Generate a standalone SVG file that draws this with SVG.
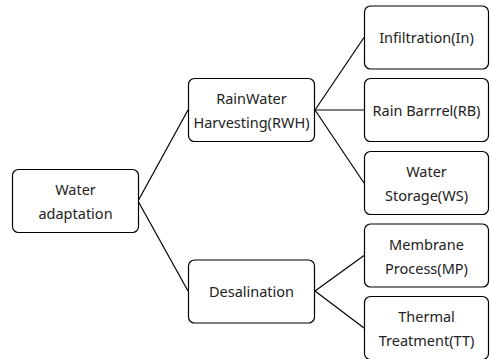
<svg xmlns="http://www.w3.org/2000/svg" width="490" height="359" viewBox="0 0 490 359">
<style>
.box{fill:#fff;stroke:#000;stroke-width:1.2}
.t{font-family:"Noto Sans","Open Sans","DejaVu Sans",sans-serif;font-size:14.5px;fill:#222;text-anchor:middle}
.c{stroke:#000;stroke-width:1.2;fill:none}
</style>
<rect width="490" height="359" fill="#fff"/>
<g id="connectors">
<line class="c" x1="138" y1="201" x2="188" y2="110"/>
<line class="c" x1="138" y1="201" x2="188" y2="291"/>
<line class="c" x1="315" y1="110" x2="364" y2="37.5"/>
<line class="c" x1="315" y1="110" x2="364" y2="110"/>
<line class="c" x1="315" y1="110" x2="364" y2="183"/>
<line class="c" x1="315" y1="291" x2="364" y2="255.5"/>
<line class="c" x1="315" y1="291" x2="364" y2="328"/>
</g>
<g id="water-adaptation">
<rect class="box" x="12.5" y="169.5" width="126" height="63" rx="6"/>
<text class="t" x="75.5" y="195">Water</text>
<text class="t" x="75.5" y="219">adaptation</text>
</g>
<g id="rwh">
<rect class="box" x="188.5" y="78.5" width="126" height="63" rx="6"/>
<text class="t" x="251.5" y="104">RainWater</text>
<text class="t" x="251.5" y="128">Harvesting(RWH)</text>
</g>
<g id="desalination">
<rect class="box" x="188.5" y="260" width="126" height="63" rx="6"/>
<text class="t" x="251.5" y="297">Desalination</text>
</g>
<g id="infiltration">
<rect class="box" x="364.5" y="6" width="124" height="63" rx="6"/>
<text class="t" x="426.5" y="43">Infiltration(In)</text>
</g>
<g id="rain-barrel">
<rect class="box" x="364.5" y="78.5" width="124" height="63" rx="6"/>
<text class="t" x="426.5" y="115.5">Rain Barrrel(RB)</text>
</g>
<g id="water-storage">
<rect class="box" x="364.5" y="151.5" width="124" height="63" rx="6"/>
<text class="t" x="426.5" y="177">Water</text>
<text class="t" x="426.5" y="201">Storage(WS)</text>
</g>
<g id="membrane">
<rect class="box" x="364.5" y="224" width="124" height="63" rx="6"/>
<text class="t" x="426.5" y="250">Membrane</text>
<text class="t" x="426.5" y="274">Process(MP)</text>
</g>
<g id="thermal">
<rect class="box" x="364.5" y="296.5" width="124" height="63" rx="6"/>
<text class="t" x="426.5" y="322">Thermal</text>
<text class="t" x="426.5" y="346">Treatment(TT)</text>
</g>
</svg>
